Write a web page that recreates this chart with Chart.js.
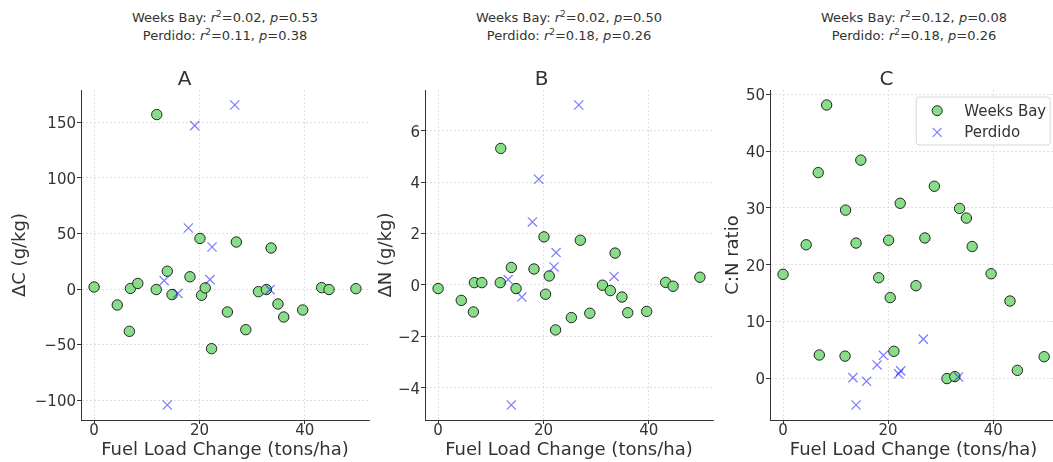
<!DOCTYPE html>
<html>
<head>
<meta charset="utf-8">
<script src="https://cdn.jsdelivr.net/npm/chart.js@4.4.1/dist/chart.umd.min.js"></script>
<style>
  html, body { margin: 0; padding: 0; background: #fff; overflow: hidden; width: 1053px; height: 462px; }
  canvas { position: absolute; top: 0; }
  .stats { position: absolute; top: 9px; width: 300px; margin-left: -150px; text-align: center;
           font-family: "DejaVu Sans", sans-serif; font-size: 13px; line-height: 18px; color: #333; white-space: nowrap; }
  .stats sup { font-size: 9px; line-height: 0; vertical-align: 5px; }
</style>
</head>
<body>
<div class="stats" style="left:225px">Weeks Bay: <i>r</i><sup>2</sup>=0.02, <i>p</i>=0.53<br>Perdido: <i>r</i><sup>2</sup>=0.11, <i>p</i>=0.38</div>
<div class="stats" style="left:569px">Weeks Bay: <i>r</i><sup>2</sup>=0.02, <i>p</i>=0.50<br>Perdido: <i>r</i><sup>2</sup>=0.18, <i>p</i>=0.26</div>
<div class="stats" style="left:914px">Weeks Bay: <i>r</i><sup>2</sup>=0.12, <i>p</i>=0.08<br>Perdido: <i>r</i><sup>2</sup>=0.18, <i>p</i>=0.26</div>

<canvas id="chartA" width="380" height="462" style="left:0px"></canvas>
<canvas id="chartB" width="355" height="462" style="left:370px"></canvas>
<canvas id="chartC" width="350" height="462" style="left:715px"></canvas>

<script>
// Weeks Bay sites
const fuelWB = [0, 4.4, 6.7, 6.9, 8.3, 11.8, 11.9, 13.9, 14.8, 18.2, 20.1, 20.4, 21.1, 22.3, 25.3, 27.0, 28.8, 31.2, 32.7, 33.6, 34.9, 36.0, 39.6, 43.2, 44.6, 49.7]
const deltaCWB = [1.8, -14.4, -38.1, 0.5, 5.0, -0.5, 157, 16, -5, 11, 45.5, -5.7, 1, -53.7, -20.7, 42.3, -36.6, -2.4, -0.5, 36.9, -13.5, -25.2, -18.9, 1.2, -0.5, 0.3]
const deltaNWB = [-0.14, -0.6, -1.05, 0.09, 0.09, 0.09, 5.31, 0.68, -0.14, 0.62, 1.87, -0.36, 0.35, -1.75, -1.27, 1.74, -1.1, -0.01, -0.22, 1.24, -0.47, -1.08, -1.03, 0.1, -0.05, 0.3]
const cnWB = [18.3, 23.5, 36.2, 4.1, 48.1, 3.9, 29.6, 23.8, 38.4, 17.7, 24.3, 14.2, 4.75, 30.8, 16.3, 24.7, 33.8, -0.05, 0.3, 29.9, 28.2, 23.2, 18.4, 13.6, 1.4, 3.8]

// Perdido sites
const fuelP = [13.3, 13.9, 15.9, 17.9, 19.1, 22.0, 22.4, 26.7, 33.4]
const deltaCP = [7.5, -104.4, -3.9, 54.9, 147, 8.4, 37.8, 165.6, -0.6]
const deltaNP = [0.21, -4.67, -0.47, 2.45, 4.11, 0.7, 1.26, 7.0, 0.33]
const cnP = [0.12, -4.7, -0.53, 2.35, 4.05, 0.77, 1.3, 6.9, 0.24]

const seriesNames = ["Weeks Bay", "Perdido"]
const xTitle = "Fuel Load Change (tons/ha)"

Chart.defaults.font.family = "'DejaVu Sans', sans-serif"
Chart.defaults.color = "#333"

const green = "#88de88"
const blue = "rgba(0, 0, 255, 0.5)"

function toPoints(xs, ys) {
  return xs.map((x, i) => ({ x: x, y: ys[i] }))
}

// matplotlib-like 5% margins
function padRange(values) {
  const lo = Math.min(...values), hi = Math.max(...values)
  const m = (hi - lo) * 0.05
  return [lo - m, hi + m]
}

const minusFix = v => String(v).replace("-", "\u2212")

// legend drawn inside the plot area, upper right
const boxLegend = {
  id: "boxLegend",
  afterDraw(chart) {
    const ctx = chart.ctx
    const area = chart.chartArea
    const w = 134, h = 48
    const left = area.right - 7 - w, top = area.top + 7
    ctx.save()
    ctx.beginPath()
    ctx.roundRect(left, top, w, h, 3)
    ctx.fillStyle = "rgba(255,255,255,0.8)"
    ctx.fill()
    ctx.strokeStyle = "#d6d6d6"
    ctx.lineWidth = 1
    ctx.stroke()

    ctx.font = "15px 'DejaVu Sans'"
    ctx.textBaseline = "middle"
    ctx.fillStyle = "#333"
    chart.data.datasets.forEach((ds, i) => {
      const cy = top + 13.7 + i * 21.7
      const cx = left + 21
      if (ds.pointStyle === "crossRot") {
        ctx.beginPath()
        ctx.moveTo(cx - 4.5, cy - 4.5); ctx.lineTo(cx + 4.5, cy + 4.5)
        ctx.moveTo(cx - 4.5, cy + 4.5); ctx.lineTo(cx + 4.5, cy - 4.5)
        ctx.strokeStyle = ds.borderColor
        ctx.lineWidth = 1.3
        ctx.stroke()
      } else {
        ctx.beginPath()
        ctx.arc(cx, cy, 5, 0, Math.PI * 2)
        ctx.fillStyle = ds.backgroundColor
        ctx.fill()
        ctx.strokeStyle = ds.borderColor
        ctx.lineWidth = 1
        ctx.stroke()
      }
      ctx.fillStyle = "#333"
      ctx.fillText(ds.label, left + 48, cy + 1)
    })
    ctx.restore()
  }
}

function makeChart(id, cfg) {
  const yr = padRange(cfg.wb.concat(cfg.p))
  const xr = padRange(fuelWB.concat(fuelP))
  return new Chart(document.getElementById(id), {
    type: "scatter",
    data: {
      datasets: [{
        label: seriesNames[0],
        data: toPoints(fuelWB, cfg.wb),
        backgroundColor: green,
        borderColor: "#222",
        borderWidth: 1,
        pointRadius: 5.2,
        order: 1
      }, {
        label: seriesNames[1],
        data: toPoints(fuelP, cfg.p),
        pointStyle: "crossRot",
        borderColor: blue,
        backgroundColor: blue,
        borderWidth: 1.3,
        pointRadius: 6.5,
        order: 0
      }]
    },
    options: {
      responsive: false,
      animation: false,
      devicePixelRatio: 1,
      events: [],
      layout: { padding: { left: 0, right: cfg.padRight, top: 68, bottom: 0 } },
      plugins: {
        legend: { display: false },
        tooltip: { enabled: false },
        title: {
          display: true,
          text: cfg.title,
          font: { size: 20, weight: "normal", lineHeight: 1 },
          color: "#333",
          padding: { top: 2, bottom: 0 }
        }
      },
      scales: {
        x: {
          type: "linear",
          min: xr[0],
          max: xr[1],
          afterFit: s => { s.height = 42 },
          ticks: { stepSize: 20, includeBounds: false, padding: 0, font: { size: 15, lineHeight: 1 }, color: "#333", callback: minusFix },
          grid: { color: "#d9d9d9", lineWidth: 0.8, tickLength: 4, tickColor: "#333", tickWidth: 1, tickBorderDash: [] },
          border: { color: "#333", width: 1, dash: [2, 2] },
          title: { display: true, text: xTitle, font: { size: 18, lineHeight: 1 }, color: "#333", padding: { top: 0, bottom: 3 } }
        },
        y: {
          type: "linear",
          min: yr[0],
          max: yr[1],
          afterFit: s => { s.width = cfg.yWidth },
          ticks: { stepSize: cfg.step, includeBounds: false, padding: 1, labelOffset: 2, font: { size: 15, lineHeight: 1 }, color: "#333", callback: minusFix },
          grid: { color: "#d9d9d9", lineWidth: 0.8, tickLength: 4, tickColor: "#333", tickWidth: 1, tickBorderDash: [] },
          border: { color: "#333", width: 1, dash: [2, 2] },
          title: { display: true, text: cfg.yTitle, font: { size: 18, lineHeight: 1 }, color: "#333", padding: { top: cfg.yTitlePad, bottom: 0 } }
        }
      }
    },
    plugins: cfg.legend ? [boxLegend] : []
  })
}

makeChart("chartA", { title: "A", yTitle: "\u0394C (g/kg)", wb: deltaCWB, p: deltaCP, step: 50, yWidth: 81, yTitlePad: 11, padRight: 11 })
makeChart("chartB", { title: "B", yTitle: "\u0394N (g/kg)", wb: deltaNWB, p: deltaNP, step: 2, yWidth: 55, yTitlePad: 7.5, padRight: 12 })
makeChart("chartC", { title: "C", yTitle: "C:N ratio", wb: cnWB, p: cnP, step: 10, yWidth: 55, yTitlePad: 9.3, padRight: 7, legend: true })
</script>
</body>
</html>
